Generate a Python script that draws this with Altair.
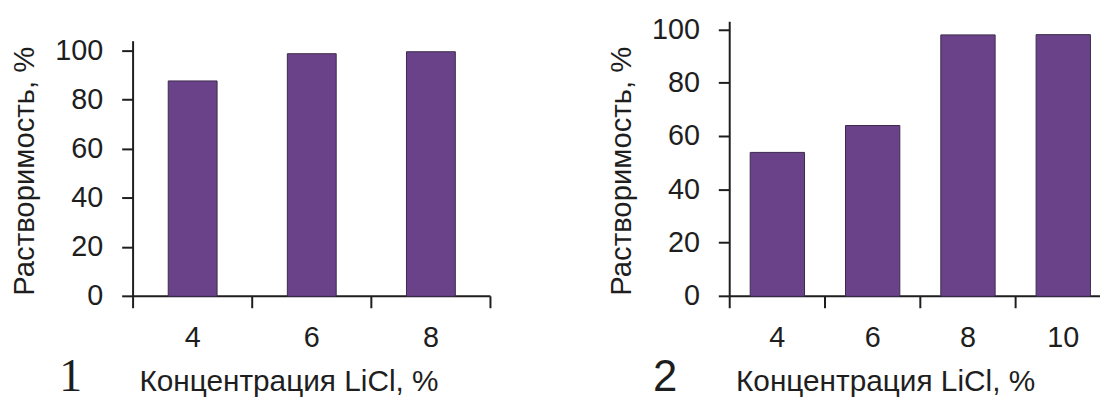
import altair as alt
import pandas as pd

# Panel 1
conc1 = ["4", "6", "8"]
sol1 = [87.8, 98.9, 99.7]
# Panel 2
conc2 = ["4", "6", "8", "10"]
sol2 = [54.0, 64.1, 98.1, 98.2]

y_ticks = [0, 20, 40, 60, 80, 100]
y_title = "Растворимость, %"
x_title = "Концентрация LiCl, %"
panel_labels = ["1", "2"]

df1 = pd.DataFrame({"c": conc1, "v": sol1})
df2 = pd.DataFrame({"c": conc2, "v": sol2})

BAR = "#6a428a"
EDGE = "#3b2a4c"
INK = "#1e1e1e"
LFS = 29
YTFS = 29.5
XTFS = 30
FONT = "Liberation Sans"


def xaxis(title_x):
    return alt.Axis(orient="bottom", title=x_title, tickBand="extent", labelAngle=0,
                    tickSize=12, tickWidth=2, domainWidth=2, domainColor=INK, tickColor=INK,
                    translate=0,
                    labelFontSize=LFS, labelColor=INK, labelPadding=16, labelFont=FONT,
                    titleFontSize=XTFS, titleColor=INK, titleFont=FONT, titleFontWeight="normal",
                    titleX=title_x, titleY=95, titleBaseline="alphabetic", grid=False)


def yaxis(offset):
    return alt.Axis(orient="left", title=y_title, values=y_ticks, offset=offset,
                    tickSize=11, tickWidth=2, domainWidth=2, domainColor=INK, tickColor=INK,
                    translate=0,
                    labelFontSize=LFS, labelColor=INK, labelPadding=19, labelFont=FONT,
                    titleFontSize=YTFS, titleColor=INK, titleFont=FONT, titleFontWeight="normal",
                    titleY=163, titlePadding=15, grid=False)


bars1 = alt.Chart(df1).mark_bar(
    color=BAR, stroke=EDGE, strokeWidth=1, width=alt.RelativeBandSize(0.41)
).encode(
    x=alt.X("c:N", sort=conc1,
            scale=alt.Scale(range=[0, 360], paddingInner=0, paddingOuter=0),
            axis=xaxis(157)),
    y=alt.Y("v:Q", scale=alt.Scale(domain=[0, 104], range=[289, 32], nice=False),
            axis=yaxis(0)),
)

bars2 = alt.Chart(df2).mark_bar(
    color=BAR, stroke=EDGE, strokeWidth=1, width=alt.RelativeBandSize(0.57)
).encode(
    x=alt.X("c:N", sort=conc2,
            scale=alt.Scale(range=[601, 985], paddingInner=0, paddingOuter=0),
            axis=xaxis(758)),
    y=alt.Y("v:Q", scale=alt.Scale(domain=[0, 103], range=[289, 12.5], nice=False),
            axis=yaxis(-601)),
)

lab1 = alt.Chart(pd.DataFrame({"t": [panel_labels[0]]})).mark_text(
    font="Liberation Serif", fontSize=46, color=INK, align="center", baseline="alphabetic"
).encode(text="t:N", x=alt.value(-63), y=alt.value(384))

lab2 = alt.Chart(pd.DataFrame({"t": [panel_labels[1]]})).mark_text(
    font=FONT, fontSize=44, color=INK, align="center", baseline="alphabetic"
).encode(text="t:N", x=alt.value(536), y=alt.value(384))

chart = alt.layer(bars1, bars2, lab1, lab2).resolve_scale(
    x="independent", y="independent"
).resolve_axis(x="independent", y="independent").properties(
    width=974, height=289,
    background="white",
    autosize=alt.AutoSizeParams(type="none"),
    padding={"left": 126, "top": 0, "right": 0, "bottom": 104},
).configure_view(stroke=None)

chart.save("out.html", embed_options={"renderer": "svg", "actions": False})
